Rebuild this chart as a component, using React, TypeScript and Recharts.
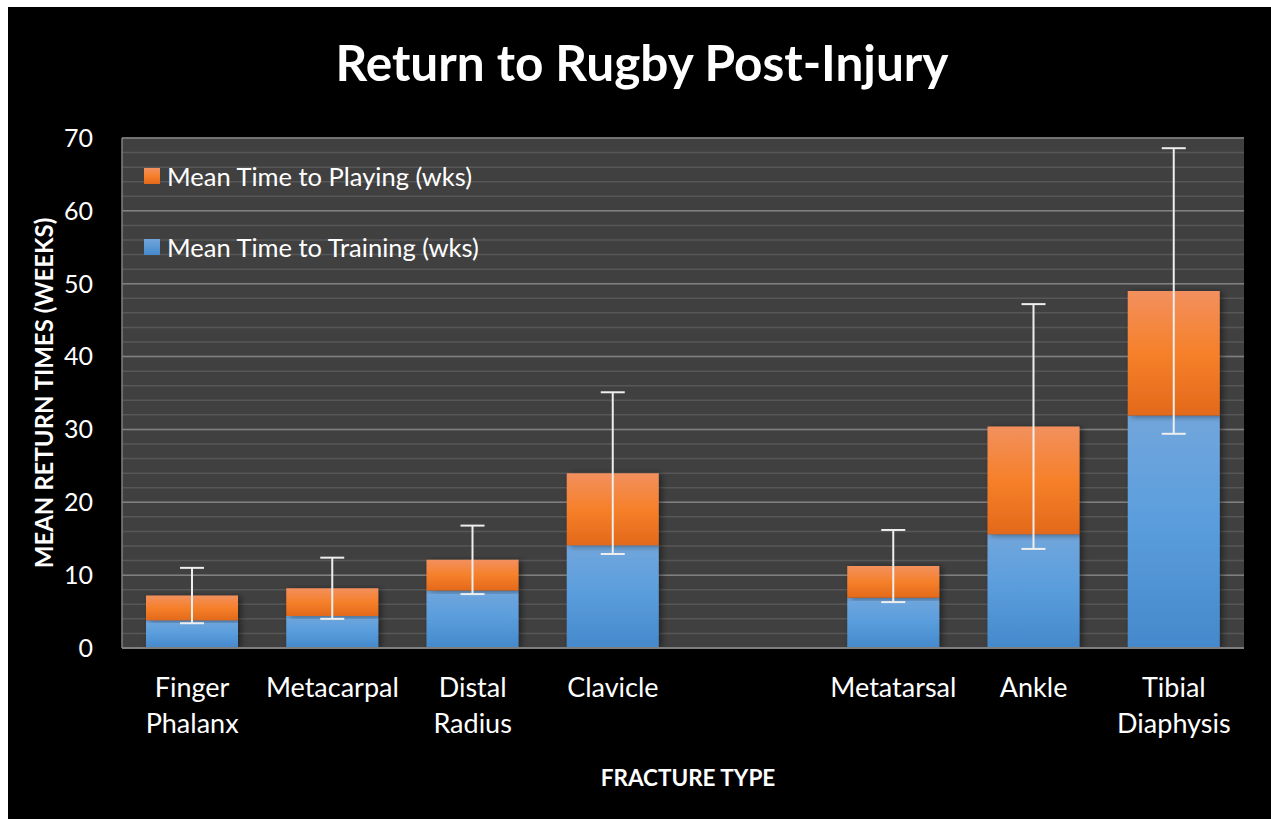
import React from "react";
import {
  BarChart,
  Bar,
  XAxis,
  YAxis,
  CartesianGrid,
  ErrorBar,
  Legend,
} from "recharts";

const categories = [
  "Finger Phalanx",
  "Metacarpal",
  "Distal Radius",
  "Clavicle",
  "",
  "Metatarsal",
  "Ankle",
  "Tibial Diaphysis",
];
const trainingWeeks = [3.8, 4.4, 7.9, 14.1, null, 6.9, 15.6, 31.9];
// extra weeks from training to playing (stacked on top)
const playingExtraWeeks = [3.4, 3.8, 4.2, 9.9, null, 4.35, 14.8, 17.1];
const playingErrorWeeks = [3.8, 4.2, 4.7, 11.1, null, 4.95, 16.8, 19.6];

const yDomain = [0, 70];
const yTicks = [0, 10, 20, 30, 40, 50, 60, 70];
const yMinorTicks = [
  0, 2, 4, 6, 8, 10, 12, 14, 16, 18, 20, 22, 24, 26, 28, 30, 32, 34, 36, 38,
  40, 42, 44, 46, 48, 50, 52, 54, 56, 58, 60, 62, 64, 66, 68, 70,
];

const legendItems = [
  { name: "Mean Time to Playing (wks)", fill: "url(#orangeGrad)", swatch: "linear-gradient(#f29060, #f6802a 50%, #e3691a)" },
  { name: "Mean Time to Training (wks)", fill: "url(#blueGrad)", swatch: "linear-gradient(#72a6dc, #4489cb)" },
];

const chartData = categories.map((name, i) => ({
  name,
  training: trainingWeeks[i],
  playing: playingExtraWeeks[i],
  err: playingErrorWeeks[i],
}));

const FONT = "Lato, 'DejaVu Sans', sans-serif";

const CategoryTick = ({ x, y, payload }: any) => {
  const lines = String(payload.value).split(" ").filter(Boolean);
  return (
    <text x={x} y={y} textAnchor="middle" fill="#ffffff" fontSize={27} fontFamily={FONT}>
      {lines.map((line, i) => (
        <tspan key={i} x={x} dy={i === 0 ? 49 : 36}>
          {line}
        </tspan>
      ))}
    </text>
  );
};

const LegendBox = () => (
  <div style={{ fontFamily: FONT, fontSize: 25.5, color: "#ffffff" }}>
    {legendItems.map((item, i) => (
      <div
        key={item.name}
        style={{
          display: "flex",
          alignItems: "center",
          height: 34,
          marginBottom: i === 0 ? 37 : 0,
          whiteSpace: "nowrap",
        }}
      >
        <span
          style={{
            display: "inline-block",
            width: 16,
            height: 16,
            background: item.swatch,
            marginRight: 7,
          }}
        />
        {item.name}
      </div>
    ))}
  </div>
);

// minor lines every 2 weeks
const minorLines = ({ yAxis, offset }: any) => {
  const s = yAxis?.scale;
  if (typeof s === "function") return yMinorTicks.map((v) => s(v));
  if (s && typeof s.map === "function") return yMinorTicks.map((v) => s.map(v));
  const top = offset?.top ?? 131;
  const h = offset?.height ?? 510;
  return yMinorTicks.map(
    (v) => top + h * (1 - (v - yDomain[0]) / (yDomain[1] - yDomain[0]))
  );
};

export default function App() {
  return (
    <div
      style={{
        position: "absolute",
        left: 8,
        top: 7,
        width: 1263,
        height: 812,
        background: "#000000",
        fontFamily: FONT,
        overflow: "hidden",
      }}
    >
      <div
        style={{
          position: "absolute",
          left: 0,
          width: 1268,
          top: 25,
          textAlign: "center",
          color: "#ffffff",
          fontSize: 49.5,
          fontWeight: 700,
          lineHeight: "60px",
        }}
      >
        Return to Rugby Post-Injury
      </div>
      <div
        style={{
          position: "absolute",
          left: 35,
          top: 386,
          transform: "translate(-50%, -50%) rotate(-90deg)",
          color: "#ffffff",
          fontSize: 24,
          fontWeight: 700,
          whiteSpace: "nowrap",
        }}
      >
        MEAN RETURN TIMES (WEEKS)
      </div>
      <div
        style={{
          position: "absolute",
          left: 680,
          top: 770,
          transform: "translate(-50%, -50%)",
          color: "#ffffff",
          fontSize: 22.5,
          fontWeight: 700,
          whiteSpace: "nowrap",
        }}
      >
        FRACTURE TYPE
      </div>

      <BarChart
        width={1263}
        height={812}
        data={chartData}
        margin={{ top: 131, right: 27, left: 34, bottom: 71 }}
        barSize={92}
        style={{ position: "absolute", left: 0, top: 0 }}
      >
        <defs>
          <linearGradient id="orangeGrad" x1="0" y1="0" x2="0" y2="1">
            <stop offset="0%" stopColor="#f2905e" />
            <stop offset="50%" stopColor="#f6802a" />
            <stop offset="100%" stopColor="#e3691a" />
          </linearGradient>
          <linearGradient id="blueGrad" x1="0" y1="0" x2="0" y2="1">
            <stop offset="0%" stopColor="#72a6dc" />
            <stop offset="45%" stopColor="#5b9edd" />
            <stop offset="100%" stopColor="#4489cb" />
          </linearGradient>
          <filter id="barShadow" x="-20%" y="-10%" width="140%" height="120%">
            <feDropShadow dx="3" dy="1" stdDeviation="3" floodColor="#000000" floodOpacity="0.45" />
          </filter>
        </defs>
        <CartesianGrid
          vertical={false}
          stroke="#575757"
          strokeWidth={1.5}
          fill="#404040"
          horizontalCoordinatesGenerator={minorLines}
        />
        <CartesianGrid vertical={false} stroke="#808080" strokeWidth={1.5} />
        <XAxis
          dataKey="name"
          interval={0}
          height={100}
          tickSize={0}
          tickMargin={0}
          tickLine={false}
          axisLine={{ stroke: "#7f7f7f", strokeWidth: 2 }}
          tick={<CategoryTick />}
        />
        <YAxis
          domain={yDomain}
          ticks={yTicks}
          width={80}
          tickSize={0}
          tickMargin={29}
          tickLine={false}
          axisLine={{ stroke: "#7f7f7f", strokeWidth: 1.5 }}
          tick={{ fill: "#ffffff", fontSize: 25, fontFamily: FONT }}
        />
        <Legend
          layout="vertical"
          align="center"
          verticalAlign="middle"
          content={() => <LegendBox />}
          wrapperStyle={{ left: 136, top: 152, width: 420, height: 110 }}
        />
        <Bar
          dataKey="training"
          name={legendItems[1].name}
          stackId="a"
          fill={legendItems[1].fill}
          filter="url(#barShadow)"
          isAnimationActive={false}
        />
        <Bar
          dataKey="playing"
          name={legendItems[0].name}
          stackId="a"
          fill={legendItems[0].fill}
          filter="url(#barShadow)"
          isAnimationActive={false}
        >
          <ErrorBar dataKey="err" width={12} stroke="#eeeeee" strokeWidth={2} />
        </Bar>
      </BarChart>
    </div>
  );
}
